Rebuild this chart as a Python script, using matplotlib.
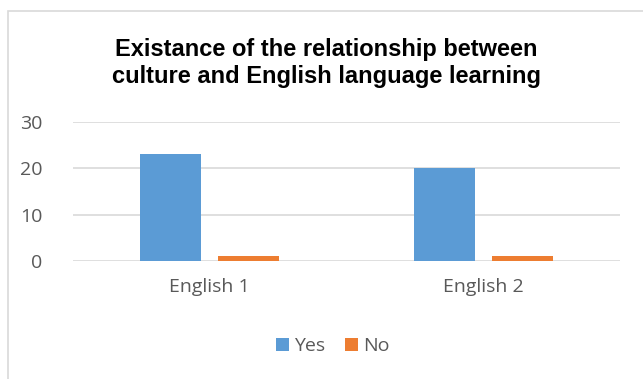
import matplotlib
matplotlib.use("Agg")
import matplotlib.pyplot as plt
import numpy as np
from matplotlib.patches import Rectangle

categories = ["English 1", "English 2"]
yes_values = [23, 20]
no_values = [1, 1]
series_names = ["Yes", "No"]
yticks = [0, 10, 20, 30]

W, H = 643, 379
fig = plt.figure(figsize=(W/100, H/100), dpi=100)
fig.patches.append(Rectangle((8/W, -0.05), 1.0, 1 - 11/H + 0.05,
                             transform=fig.transFigure, fill=False,
                             edgecolor="#d9d9d9", linewidth=1.2))

ax = fig.add_axes([73/W, 1 - 261/H, (620-73)/W, (261-122)/H])
x = np.arange(len(categories))
bw = 0.223
off = 0.143
ax.bar(x - off, yes_values, bw, color="#5b9bd5", label=series_names[0], zorder=3)
ax.bar(x + off, no_values, bw, color="#ed7d31", label=series_names[1], zorder=3)

ax.set_xlim(-0.5, 1.5)
ax.set_ylim(0, 30)
ax.set_yticks(yticks)
ax.set_yticklabels([str(v) for v in yticks])
ax.set_xticks(x)
ax.set_xticklabels(categories)
for s in ax.spines.values():
    s.set_visible(False)
ax.grid(axis="y", color="#d9d9d9", linewidth=1.2, zorder=0)
ax.tick_params(axis="both", length=0, labelsize=14, labelcolor="#595959")
ax.tick_params(axis="x", pad=12)
ax.tick_params(axis="y", pad=22)
for lbl in ax.get_xticklabels() + ax.get_yticklabels():
    lbl.set_family(["Open Sans", "DejaVu Sans"])

fig.text(326/W, 1 - 63/H, "Existance of the relationship between\nculture and English language learning",
         ha="center", va="center", fontsize=17, fontweight="bold",
         family=["Liberation Sans", "DejaVu Sans"], linespacing=1.22, color="black")

leg = fig.legend(loc="center", bbox_to_anchor=(333/W, 1 - 346/H), ncol=2, frameon=False,
                 handlelength=0.65, handleheight=0.65, handletextpad=0.3, columnspacing=1.0,
                 prop={"family": ["Open Sans", "DejaVu Sans"], "size": 14})
for t in leg.get_texts():
    t.set_color("#595959")

fig.savefig("out.png", dpi=100)
